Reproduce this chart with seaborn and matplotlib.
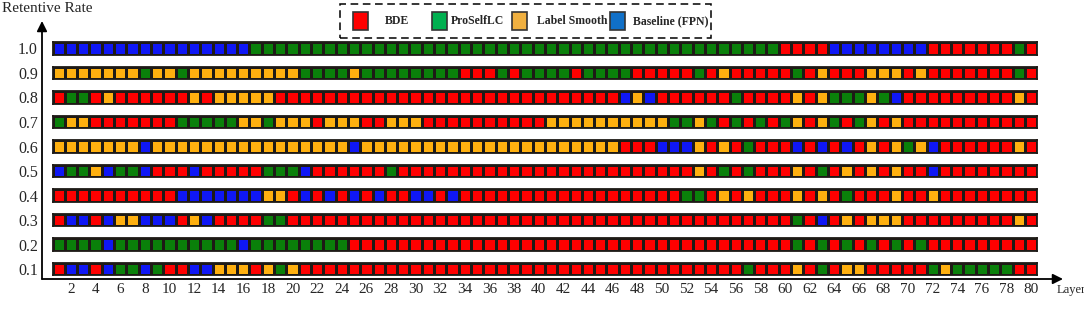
import numpy as np
import matplotlib
matplotlib.use("Agg")
import matplotlib.pyplot as plt
import seaborn as sns
from matplotlib.colors import ListedColormap
from matplotlib.patches import Rectangle

# ---------------- data ----------------
methods = ["BDE", "ProSelfLC", "Label Smooth", "Baseline (FPN)"]
method_codes = ["R", "G", "O", "B"]          # letter used in the rows below
rates = ["1.0", "0.9", "0.8", "0.7", "0.6", "0.5", "0.4", "0.3", "0.2", "0.1"]
layers = list(range(1, 81))
layer_ticks = list(range(2, 81, 2))

# best method per layer (layers 1..80), written in blocks of 10 layers
row_1_0 = "BBBBBBBBBB BBBBBBGGGG GGGGGGGGGG GGGGGGGGGG GGGGGGGGGG GGGGGGGGGR RRRBBBBBBB BRRRRRRRGR"
row_0_9 = "OOOOOOOGOO GOOOOOOOOO GGGGOGGGGG GGGRRRGRGG GGRGGGGRRR RRGRORRRRR GRORRROOOR ORRRRRRRGR"
row_0_8 = "RGGRORRRRR ROROOOOORR RRRRRRRRRR RRRRRRRRRR RRRRRRBOBR RRRRRGRRRR OROGGGOGBR RRRRRRRROR"
row_0_7 = "GOORRRRRRR GGGGGOOGOO OROOORROOO RRRRRRRRRR OOOOOOOOOO GGOGRGRGRG OROGRGOROR RRRRRRRRRR"
row_0_6 = "OOOOOOOBOO OOOOOOOOOO OOOOBOOOOO OOOOOOOOOO OOOOOORRRB BBORORGRRR BRBRBROROG OBRRRRRROR"
row_0_5 = "BGGOBGGBRR RBRRRRRGGG BRRRRRRGRR RRRRRRRRRR RRRRRRRRRR RRORGRGRRR ORGROROROR RBRRRRRRRR"
row_0_4 = "RRRRRRRRRR BBBBBBBOOR BRBRBRBRRB BRBRRRRRRR RRRRRRRRRR RGGRORORRR ORORGRRROR RORRRRRRRR"
row_0_3 = "RBBRBOOBBB ROBRRRRGGR RRRRRRRRRR RRRRRRRRRR RRRRRRRRRR RRRRRRRRRR GRBROROOOR RRRRRRRROR"
row_0_2 = "GGGGBGGGGG GGGGGBGGGG GGGGRRRRRR RRRRRRRRRR RRRRRRRRRR RRRRRRRRRR GRGRGRGRGR GRRRRRRRRR"
row_0_1 = "RBBRBGGBGR RBBOOOROGO RRRRRRRRRR RRRRRRRRRR RRRRRRRRRR RRRRRRGRRR ORGROORRRR RGOGGGGGRR"

rows = [row_1_0, row_0_9, row_0_8, row_0_7, row_0_6,
        row_0_5, row_0_4, row_0_3, row_0_2, row_0_1]

# ---------------- styles ----------------
cell_colors = ["#FF0000", "#0A800A", "#FFB00F", "#0F17F5"]
legend_colors = ["#FF0000", "#00B050", "#F0B040", "#1070C8"]
edge_col = "#1E1A16"

sns.set_theme(style="white")
plt.rcParams["font.family"] = ["Liberation Serif", "DejaVu Serif"]

W, H = 1084, 321
fig = plt.figure(figsize=(W / 100, H / 100), dpi=100)
fig.patch.set_facecolor("white")

def fx(px):
    return px / W

def fy(py):
    return 1 - py / H

code_map = {c: i for i, c in enumerate(method_codes)}
cmap = ListedColormap(cell_colors)

# layout (pixels)
ax_left, ax_right, ax_top, ax_bottom = 42, 1063, 21, 279
cell_w = 12.31
strip_h = 12.3
row_pitch = 24.52
x0_px = 52.5
y0_px = 42.3

# background axes carrying the arrows and the tick labels
bg = fig.add_axes([fx(ax_left), fy(ax_bottom), fx(ax_right - ax_left),
                   (ax_bottom - ax_top) / H])
bg.set_xlim(-(x0_px - ax_left) / cell_w, (ax_right - x0_px) / cell_w)
yc0 = y0_px + strip_h / 2
bg.set_ylim((ax_bottom - yc0) / row_pitch, (ax_top - yc0) / row_pitch)
bg.set_facecolor("none")
for sp in bg.spines.values():
    sp.set_visible(False)
bg.set_xticks([layers.index(l) + 0.5 for l in layer_ticks])
bg.set_xticklabels([str(l) for l in layer_ticks], fontsize=11)
bg.set_yticks(list(range(len(rates))))
bg.set_yticklabels(rates, fontsize=11.5)
bg.tick_params(axis="both", length=0)
bg.tick_params(axis="x", pad=3)
bg.tick_params(axis="y", pad=3)

arrow_kw = dict(arrowstyle="-|>", color="black", lw=1.3, mutation_scale=15,
                shrinkA=0, shrinkB=0)
bg.annotate("", xy=(0, 1), xytext=(0, 0), xycoords="axes fraction",
            textcoords="axes fraction", arrowprops=arrow_kw, annotation_clip=False)
bg.annotate("", xy=(1, 0), xytext=(0, 0), xycoords="axes fraction",
            textcoords="axes fraction", arrowprops=arrow_kw, annotation_clip=False)

# one heatmap strip per retentive rate
for r, s in enumerate(rows):
    vals = np.array([[code_map[ch] for ch in s.replace(" ", "")]], dtype=float)
    top_px = y0_px + r * row_pitch
    sax = fig.add_axes([fx(x0_px), fy(top_px + strip_h), fx(cell_w * len(layers)),
                        strip_h / H])
    sns.heatmap(vals, ax=sax, cmap=cmap, vmin=-0.5, vmax=3.5, cbar=False,
                linewidths=0.8, linecolor=edge_col, xticklabels=False,
                yticklabels=False)
    sax.set_xlabel("")
    sax.set_ylabel("")
    for sp in sax.spines.values():
        sp.set_visible(True)
        sp.set_color(edge_col)
        sp.set_linewidth(1.3)

fig.text(fx(2), fy(9), "Retentive Rate", ha="left", va="center", fontsize=11)
fig.text(fx(1057), fy(290), "Layer", ha="left", va="center", fontsize=9)

# legend (dashed box)
fig.patches.append(Rectangle((fx(340), fy(38)), fx(371), (38 - 4) / H,
                             transform=fig.transFigure, fill=False,
                             edgecolor="black", lw=1.1, linestyle=(0, (5, 3))))
sq_x = [353, 432, 512, 610]
txt_x = [385, 451, 537, 633]
for col, name, sx, tx in zip(legend_colors, methods, sq_x, txt_x):
    fig.patches.append(Rectangle((fx(sx), fy(30)), fx(15), 18 / H,
                                 transform=fig.transFigure, facecolor=col,
                                 edgecolor="#333333", lw=1.2))
    fig.text(fx(tx), fy(21.5), name, ha="left", va="center", fontsize=8.5,
             fontweight="bold")

fig.savefig("out.png", dpi=100, facecolor="white")
